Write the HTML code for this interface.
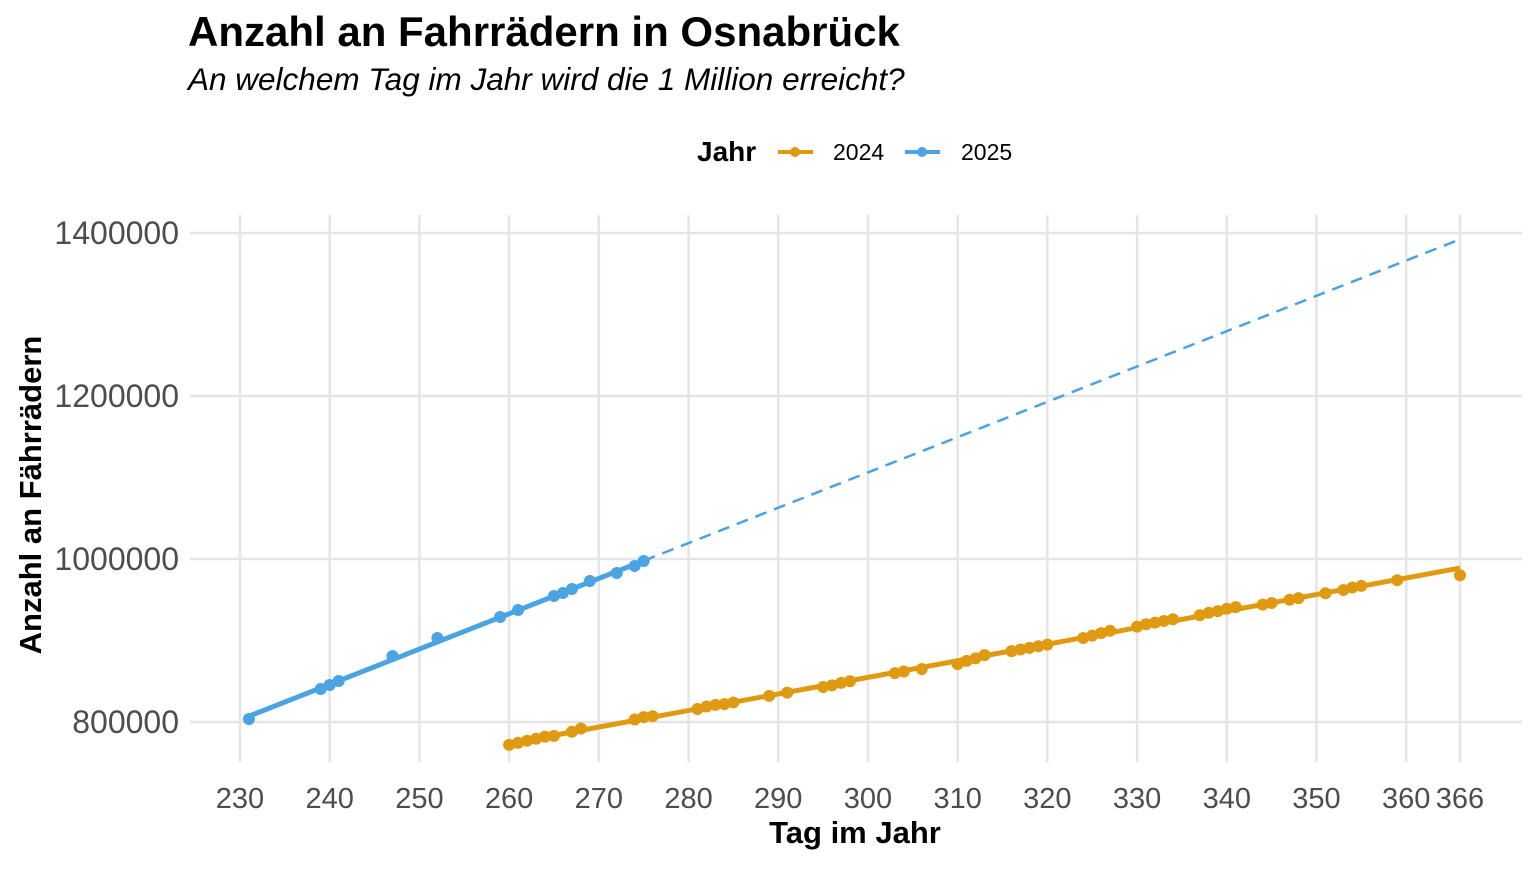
<!DOCTYPE html>
<html><head><meta charset="utf-8"><style>
body{margin:0;background:#fff;font-family:"Liberation Sans",Arial,sans-serif}
svg text{font-family:"Liberation Sans",Arial,sans-serif}
</style></head><body>
<svg width="1536" height="864" viewBox="0 0 1536 864">
<text x="188" y="46" font-size="42" font-weight="bold" fill="#000">Anzahl an Fahrrädern in Osnabrück</text>
<text x="188" y="90" font-size="31.5" font-style="italic" fill="#000">An welchem Tag im Jahr wird die 1 Million erreicht?</text>
<g>
<text x="697" y="161" font-size="28" font-weight="bold">Jahr</text>
<g><line x1="778" y1="152" x2="813" y2="152" stroke="#E09A12" stroke-width="4"/><circle cx="795" cy="152" r="5" fill="#E09A12"/><text x="833" y="160" font-size="23">2024</text></g>
<g><line x1="905" y1="152" x2="940" y2="152" stroke="#4AA3E2" stroke-width="4"/><circle cx="922" cy="152" r="5" fill="#4AA3E2"/><text x="961" y="160" font-size="23">2025</text></g>
</g>
<g id="grid"></g><g id="axes"></g><g id="marks"></g>
<text x="855" y="843" font-size="31" font-weight="bold" text-anchor="middle">Tag im Jahr</text>
<text transform="translate(41,495) rotate(-90)" font-size="31" font-weight="bold" text-anchor="middle">Anzahl an Fährrädern</text>
</svg>
<script>
const xTicks=[230,240,250,260,270,280,290,300,310,320,330,340,350,360,366];
const yTicks=[800000,1000000,1200000,1400000];
const yTickLabels=["800000","1000000","1200000","1400000"];
const days2025=[231,239,240,241,247,252,259,261,265,266,267,269,272,274,275];
const vals2025=[803700,840500,845400,850300,881000,903000,928800,937400,954600,958300,963200,973000,982800,991400,997500];
const days2024=[260,261,262,263,264,265,267,268,274,275,276,281,282,283,284,285,289,291,295,296,297,298,303,304,306,310,311,312,313,316,317,318,319,320,324,325,326,327,330,331,332,333,334,337,338,339,340,341,344,345,347,348,351,353,354,355,359,366];
const vals2024k=[772,774.5,777,779.5,782,783,788,792,803,806,807,816,819,821,822,824,832,836,843,845,848,850,860,862,865,871,875,878,882,887,889,891,893,895,903,906,909,912,917,920,922,924,926,931,934,936,939,941,944,946,950,952,958,962,965,967,974,980];
const vals2024=vals2024k.map(v=>v*1000);
const xs=d=>240+(d-230)*(1220/136);
const ys=v=>722-(v-800000)*(489/600000);
const NS="http://www.w3.org/2000/svg";
function mk(parent,tag,attrs){const e=document.createElementNS(NS,tag);for(const k in attrs)e.setAttribute(k,attrs[k]);document.getElementById(parent).appendChild(e);return e;}
xTicks.forEach(t=>{
 const l=mk('grid','line',{x1:xs(t),x2:xs(t),y1:215,y2:762,stroke:'#e5e5e5','stroke-width':2.5});
 
 
 const tx=mk('axes','text',{x:xs(t),y:808,'font-size':29,fill:'#4d4d4d','text-anchor':'middle'});
 tx.textContent=t;
 
 
});
yTicks.forEach((t,i)=>{
 const l=mk('grid','line',{x1:190,x2:1522,y1:ys(t),y2:ys(t),stroke:'#e5e5e5','stroke-width':2.5});
 
 
 const tx=mk('axes','text',{x:179,y:ys(t)+11,'font-size':32,fill:'#4d4d4d','text-anchor':'end'});
 tx.textContent=yTickLabels[i];
 
 
});
function fit(d,v){const n=d.length;const mx=d.reduce((a,b)=>a+b)/n,my=v.reduce((a,b)=>a+b)/n;let sxy=0,sxx=0;for(let i=0;i<n;i++){sxy+=(d[i]-mx)*(v[i]-my);sxx+=(d[i]-mx)**2;}const b=sxy/sxx;return x=>my+b*(x-mx);}
const f25=fit(days2025,vals2025), f24=fit(days2024,vals2024);
const d25a=days2025[0], d25b=days2025[days2025.length-1];
let l=mk('marks','line',{x1:xs(d25b),y1:ys(f25(d25b)),x2:xs(366),y2:ys(f25(366)),stroke:'#4AA3E2','stroke-width':2.5,'stroke-dasharray':'12,8'});


l=mk('marks','line',{x1:xs(d25a),y1:ys(f25(d25a)),x2:xs(d25b),y2:ys(f25(d25b)),stroke:'#4AA3E2','stroke-width':5});


const d24a=days2024[0], d24b=days2024[days2024.length-1];
l=mk('marks','line',{x1:xs(d24a),y1:ys(f24(d24a)),x2:xs(d24b),y2:ys(f24(d24b)),stroke:'#E09A12','stroke-width':5});


days2025.forEach((d,i)=>{const c=mk('marks','circle',{cx:xs(d),cy:ys(vals2025[i]),r:6,fill:'#4AA3E2'});
 
 });
days2024.forEach((d,i)=>{const c=mk('marks','circle',{cx:xs(d),cy:ys(vals2024[i]),r:6,fill:'#E09A12'});
 
 });
</script>
</body></html>
